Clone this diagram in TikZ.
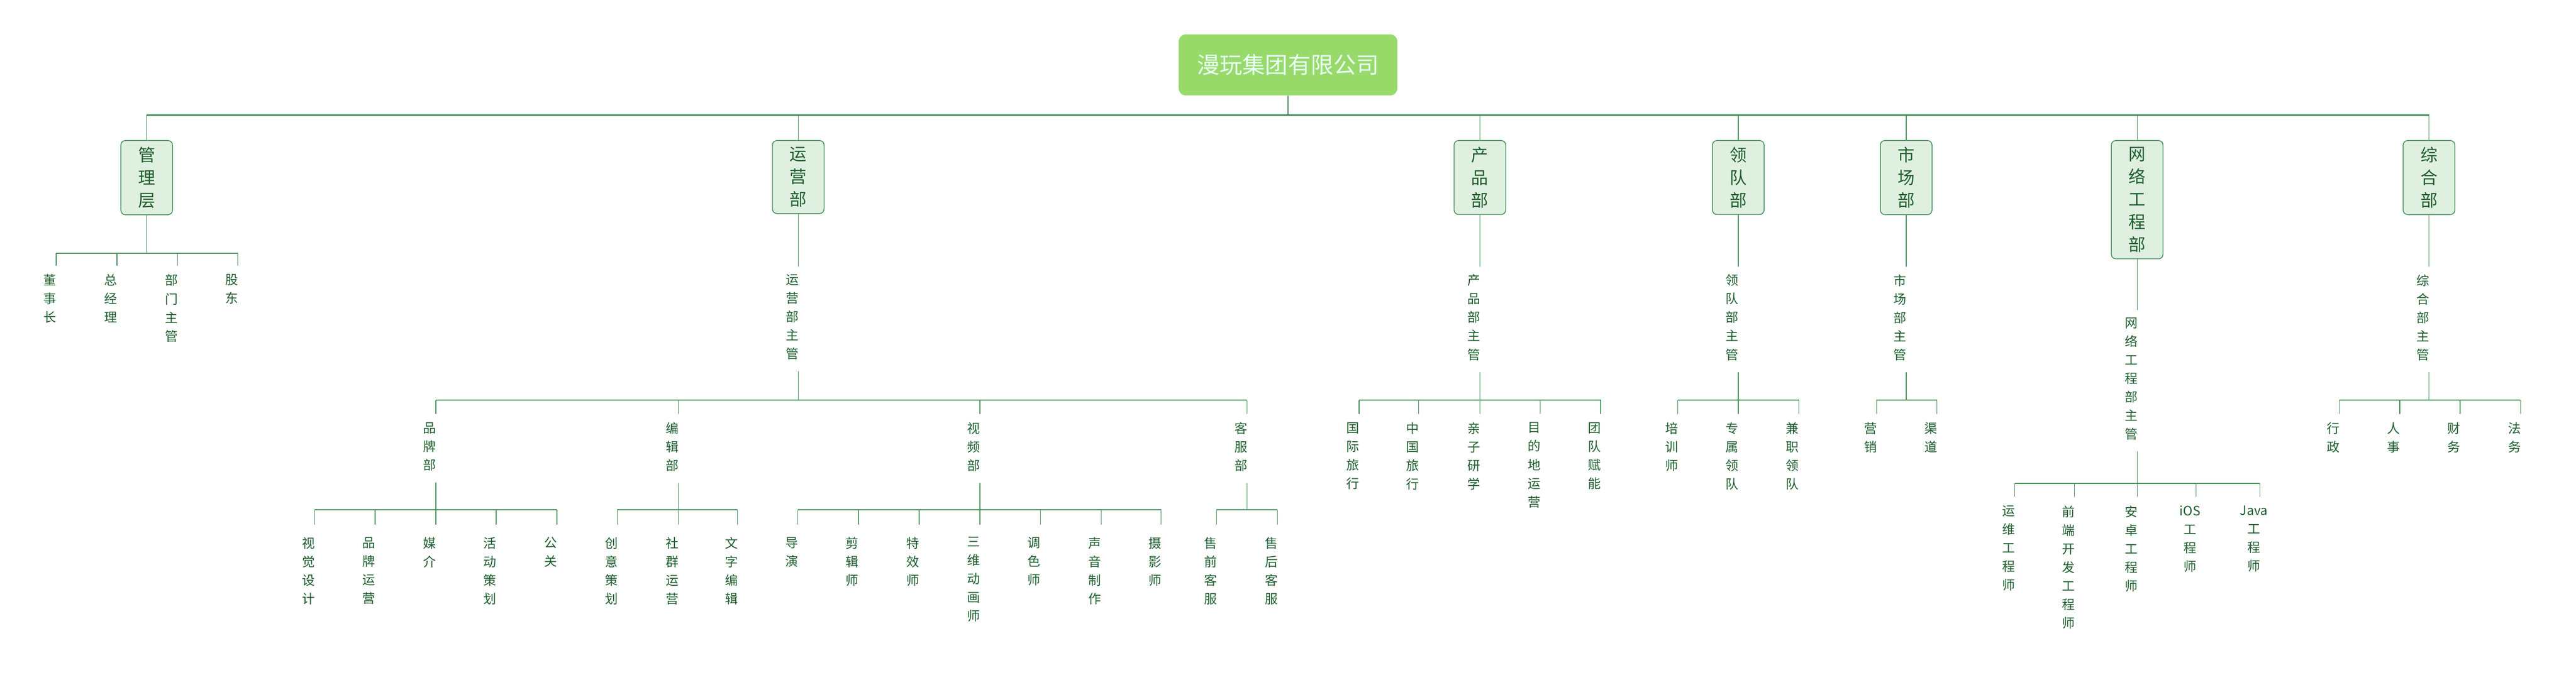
\documentclass[tikz,border=0pt]{standalone}
\usepackage{fontspec}
\setmainfont{Noto Sans CJK SC}
\definecolor{MWroot}{RGB}{152,218,106}
\definecolor{MWroottext}{RGB}{232,255,248}
\definecolor{MWline}{RGB}{62,142,85}
\definecolor{MWfill}{RGB}{224,240,224}
\definecolor{MWtext}{RGB}{30,94,46}
\tikzset{
  MWrootbox/.style={fill=MWroot, text=MWroottext, rounded corners=0.2cm, minimum width=5.76cm, minimum height=1.61cm, font=\fontsize{17}{20}\selectfont},
  MWdept/.style={draw=MWline, fill=MWfill, text=MWtext, rounded corners=0.12cm, align=center, anchor=north, minimum width=1.36cm, inner ysep=0.17cm, line width=0.6pt, font=\fontsize{12.8}{17}\selectfont},
  MWleaf/.style={text=MWtext, align=center, anchor=north, inner sep=0pt, xshift=-0.16cm, font=\fontsize{9.6}{13.9}\selectfont},
  MWbus/.style={draw=MWline, line width=0.9pt},
  MWlink/.style={draw=MWline, line width=0.5pt}
}
\begin{document}
\begin{tikzpicture}
    \useasboundingbox (0,0) rectangle (67.8,-17.77);
    % root and departments
    \node [MWrootbox] (root) at (33.90,-1.71) {漫玩集团有限公司};
    \node [MWdept] (mgmt) at (3.86,-3.69) {管\\理\\层};
    \node [MWdept] (ops)  at (21.01,-3.69) {运\\营\\部};
    \node [MWdept] (prod) at (38.95,-3.69) {产\\品\\部};
    \node [MWdept] (lead) at (45.75,-3.69) {领\\队\\部};
    \node [MWdept] (mkt)  at (50.17,-3.69) {市\\场\\部};
    \node [MWdept] (net)  at (56.25,-3.69) {网\\络\\工\\程\\部};
    \node [MWdept] (gen)  at (63.93,-3.69) {综\\合\\部};
    \coordinate (bus0) at (0,-3.03);
    \draw [MWlink] (root.south) -- (root.south |- bus0);
    \draw [MWbus] (mgmt.north |- bus0) -- (gen.north |- bus0);
    \foreach \d in {mgmt,ops,prod,lead,mkt,net,gen}
        \draw [MWlink] (\d.north |- bus0) -- (\d.north);

    % management
    \coordinate (busm) at (0,-6.67);
    \node [MWleaf] (m1) at (1.48,-7.22) {董\\事\\长};
    \node [MWleaf] (m2) at (3.08,-7.22) {总\\经\\理};
    \node [MWleaf] (m3) at (4.67,-7.22) {部\\门\\主\\管};
    \node [MWleaf] (m4) at (6.26,-7.22) {股\\东};
    \draw [MWlink] (mgmt.south) -- (mgmt.south |- busm);
    \draw [MWbus] ([xshift=0.16cm]m1.north |- busm) -- ([xshift=0.16cm]m4.north |- busm);
    \foreach \c in {m1,m2,m3,m4}
        \draw [MWlink] ([xshift=0.16cm]\c.north |- busm) -- ([xshift=0.16cm,yshift=0.22cm]\c.north);

    % heads
    \node [MWleaf] (opsH)  at (21.01,-7.22) {运\\营\\部\\主\\管};
    \node [MWleaf] (prodH) at (38.95,-7.22) {产\\品\\部\\主\\管};
    \node [MWleaf] (leadH) at (45.75,-7.22) {领\\队\\部\\主\\管};
    \node [MWleaf] (mktH)  at (50.17,-7.22) {市\\场\\部\\主\\管};
    \node [MWleaf] (netH)  at (56.25,-8.36) {网\\络\\工\\程\\部\\主\\管};
    \node [MWleaf] (genH)  at (63.93,-7.22) {综\\合\\部\\主\\管};
    \foreach \d/\h in {ops/opsH,prod/prodH,lead/leadH,mkt/mktH,net/netH,gen/genH}
        \draw [MWlink] (\d.south) -- ([yshift=0.2cm]\d.south |- \h.north);

    % operations
    \coordinate (buso) at (0,-10.54);
    \node [MWleaf] (brand) at (11.47,-11.12) {品\\牌\\部};
    \node [MWleaf] (edit)  at (17.85,-11.12) {编\\辑\\部};
    \node [MWleaf] (video) at (25.79,-11.12) {视\\频\\部};
    \node [MWleaf] (cs)    at (32.82,-11.12) {客\\服\\部};
    \draw [MWlink] ([xshift=0.16cm,yshift=-0.3cm]opsH.south) -- ([xshift=0.16cm]opsH.south |- buso);
    \draw [MWbus] ([xshift=0.16cm]brand.north |- buso) -- ([xshift=0.16cm]cs.north |- buso);
    \foreach \c in {brand,edit,video,cs}
        \draw [MWlink] ([xshift=0.16cm]\c.north |- buso) -- ([xshift=0.16cm,yshift=0.22cm]\c.north);

    \coordinate (bus2) at (0,-13.42);
    \foreach \n/\x/\t in {b1/8.28/视\\觉\\设\\计, b2/9.87/品\\牌\\运\\营, b3/11.47/媒\\介, b4/13.06/活\\动\\策\\划, b5/14.66/公\\关,
        e1/16.25/创\\意\\策\\划, e2/17.85/社\\群\\运\\营, e3/19.41/文\\字\\编\\辑,
        v1/21.00/导\\演, v2/22.59/剪\\辑\\师, v3/24.19/特\\效\\师, v4/25.79/三\\维\\动\\画\\师, v5/27.38/调\\色\\师, v6/28.98/声\\音\\制\\作, v7/30.56/摄\\影\\师,
        c1/32.02/售\\前\\客\\服, c2/33.62/售\\后\\客\\服}
        \node [MWleaf] (\n) at (\x,-14.14) {\t};
    \foreach \p/\a/\b in {brand/b1/b5, edit/e1/e3, video/v1/v7, cs/c1/c2} {
        \draw [MWlink] ([xshift=0.16cm,yshift=-0.3cm]\p.south) -- ([xshift=0.16cm]\p.south |- bus2);
        \draw [MWbus] ([xshift=0.16cm]\a.north |- bus2) -- ([xshift=0.16cm]\b.north |- bus2);
    }
    \foreach \c in {b1,b2,b3,b4,b5,e1,e2,e3,v1,v2,v3,v4,v5,v6,v7,c1,c2}
        \draw [MWlink] ([xshift=0.16cm]\c.north |- bus2) -- ([xshift=0.16cm,yshift=0.32cm]\c.north);

    % product, team, market, general
    \foreach \n/\x/\t in {p1/35.77/国\\际\\旅\\行, p2/37.34/中\\国\\旅\\行, p3/38.95/亲\\子\\研\\学, p4/40.54/目\\的\\地\\运\\营, p5/42.13/团\\队\\赋\\能,
        l1/44.16/培\\训\\师, l2/45.75/专\\属\\领\\队, l3/47.34/兼\\职\\领\\队,
        k1/49.39/营\\销, k2/50.98/渠\\道,
        g1/61.57/行\\政, g2/63.16/人\\事, g3/64.75/财\\务, g4/66.34/法\\务}
        \node [MWleaf] (\n) at (\x,-11.12) {\t};
    \foreach \p/\a/\b in {prodH/p1/p5, leadH/l1/l3, mktH/k1/k2, genH/g1/g4} {
        \draw [MWlink] ([xshift=0.16cm,yshift=-0.3cm]\p.south) -- ([xshift=0.16cm]\p.south |- buso);
        \draw [MWbus] ([xshift=0.16cm]\a.north |- buso) -- ([xshift=0.16cm]\b.north |- buso);
    }
    \foreach \c in {p1,p2,p3,p4,p5,l1,l2,l3,k1,k2,g1,g2,g3,g4}
        \draw [MWlink] ([xshift=0.16cm]\c.north |- buso) -- ([xshift=0.16cm,yshift=0.22cm]\c.north);

    % network
    \coordinate (busn) at (0,-12.73);
    \foreach \n/\x/\t in {n1/53.03/运\\维\\工\\程\\师, n2/54.60/前\\端\\开\\发\\工\\程\\师, n3/56.25/安\\卓\\工\\程\\师, n4/57.80/iOS\\工\\程\\师, n5/59.48/Java\\工\\程\\师}
        \node [MWleaf] (\n) at (\x,-13.31) {\t};
    \draw [MWlink] ([xshift=0.16cm,yshift=-0.3cm]netH.south) -- ([xshift=0.16cm]netH.south |- busn);
    \draw [MWbus] ([xshift=0.16cm]n1.north |- busn) -- ([xshift=0.16cm]n5.north |- busn);
    \foreach \c in {n1,n2,n3,n4,n5}
        \draw [MWlink] ([xshift=0.16cm]\c.north |- busn) -- ([xshift=0.16cm,yshift=0.22cm]\c.north);
\end{tikzpicture}
\end{document}
